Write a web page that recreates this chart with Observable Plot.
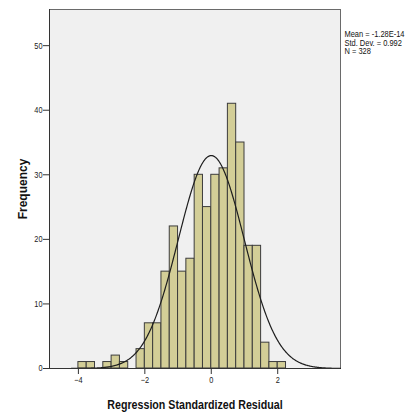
<!DOCTYPE html>
<html><head><meta charset="utf-8">
<script src="https://cdn.jsdelivr.net/npm/d3@7"></script>
<script src="https://cdn.jsdelivr.net/npm/@observablehq/plot@0.6"></script>
<style>body{margin:0;background:#fff}</style>
</head><body><div id="chart"></div>
<script>
const binStarts = [-4, -3.75, -3.5, -3.25, -3, -2.75, -2.5, -2.25, -2, -1.75, -1.5, -1.25, -1, -0.75, -0.5, -0.25, 0, 0.25, 0.5, 0.75, 1, 1.25, 1.5, 1.75, 2];
const counts = [1, 1, 0, 1, 2, 1, 0, 3, 7, 7, 15, 22, 15, 17, 30, 25, 30, 31, 41, 35, 19, 19, 4, 1, 1];
const binWidth = 0.25;
const xTicks = [-4, -2, 0, 2];
const yTicks = [0, 10, 20, 30, 40, 50];
const statsLines = ["Mean = -1.28E-14", "Std. Dev. = 0.992", "N = 328"];
const mean = -1.28e-14, sd = 0.992, n = 328;
const xDomain = [-4.87, 3.89];
const yDomain = [0, 55.6];

const bars = binStarts.map((b, i) => ({x1: b, x2: b + binWidth, count: counts[i]})).filter(d => d.count > 0);
const curve = d3.range(xDomain[0], xDomain[1] + 0.001, 0.02).map(x => ({
  x, y: n * binWidth * Math.exp(-0.5 * ((x - mean) / sd) ** 2) / (sd * Math.sqrt(2 * Math.PI))
}));

const sans = "'Liberation Sans', Arial, sans-serif";

const chart = Plot.plot({
  width: 414, height: 412,
  marginLeft: 49, marginRight: 74, marginTop: 9, marginBottom: 44,
  style: {fontFamily: sans, fontSize: "9px", color: "#222", background: "#fff"},
  x: {domain: xDomain},
  y: {domain: yDomain},
  marks: [
    Plot.frame({fill: "#f0f0f0", stroke: "#6a6a6a"}),
    Plot.rect(bars, {x1: "x1", x2: "x2", y1: d => 0, y2: "count", fill: "#d3ce97", stroke: "#3c3c3c", strokeWidth: 1}),
    Plot.line(curve, {x: "x", y: "y", stroke: "#1e1e1e", strokeWidth: 1.2}),
    Plot.ruleY([0], {stroke: "#333"}),
    Plot.ruleX([xDomain[0]], {stroke: "#333"}),
    Plot.axisX({ticks: xTicks, tickSize: 6, tickPadding: 2, label: null, stroke: "#333"}),
    Plot.axisY({ticks: yTicks, tickSize: 6, tickPadding: 1, label: null, stroke: "#333"}),
    Plot.text(["Frequency"], {frameAnchor: "left", textAnchor: "middle", lineAnchor: "middle", rotate: -90, dx: -26, fontSize: 12, fontWeight: "bold", fill: "#111", style: "letter-spacing:1px"}),
    Plot.text(["Regression Standardized Residual"], {frameAnchor: "bottom", textAnchor: "middle", lineAnchor: "middle", dy: 36, fontSize: 13, fontWeight: "bold", fill: "#111"}),
    Plot.text([statsLines.join("\n")], {frameAnchor: "top-right", textAnchor: "start", lineAnchor: "top", dx: 4, dy: 22, fontSize: 8.3, lineHeight: 1.0, fill: "#111"})
  ]
});
document.getElementById("chart").appendChild(chart);

// Condense text to mimic the narrow font of the original (no narrow font installed)
function condense(el, factor) {
  const w = el.getComputedTextLength();
  if (w > 0) {
    el.setAttribute("textLength", (w * factor).toFixed(2));
    el.setAttribute("lengthAdjust", "spacingAndGlyphs");
  }
}
chart.querySelectorAll("text").forEach(t => {
  if (t.textContent === "Frequency") return;
  const spans = t.querySelectorAll("tspan");
  if (spans.length) spans.forEach(s => condense(s, 0.9));
  else condense(t, 0.82);
});
</script>
</body></html>
